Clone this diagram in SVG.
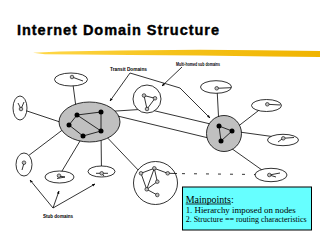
<svg xmlns="http://www.w3.org/2000/svg" width="320" height="240" viewBox="0 0 320 240">
<defs>
<style>
.ln{stroke:#000;stroke-width:0.8;fill:none}
.dom{fill:#fff;stroke:#000;stroke-width:0.8}
.tr{fill:#c0c0c0;stroke:#000;stroke-width:0.8}
.bn{fill:#000}
.sn{fill:#c0c0c0;stroke:#000;stroke-width:0.6}
.lbl{font-family:"Liberation Sans",Arial,sans-serif;font-size:4.5px;font-weight:bold;fill:#000}
.mp{font-family:"Liberation Serif","Times New Roman",serif;fill:#000}
</style>
<marker id="ah" viewBox="0 0 10 10" refX="9" refY="5" markerWidth="4" markerHeight="4" orient="auto">
<path d="M0,1 L10,5 L0,9 Z" fill="#000"/>
</marker>
<linearGradient id="yg" x1="0" y1="0" x2="1" y2="0">
<stop offset="0" stop-color="#ffd84a"/>
<stop offset="0.5" stop-color="#f5c21a"/>
<stop offset="1" stop-color="#f0b400"/>
</linearGradient>
</defs>
<rect width="320" height="240" fill="#fff"/>
<text x="17" y="34.5" font-family="Liberation Sans,Arial,sans-serif" font-weight="bold" font-size="14.5" stroke="#000" stroke-width="0.4" textLength="202" lengthAdjust="spacing">Internet Domain Structure</text>
<polygon points="33,52.8 60,51.5 120,50.5 200,49.8 260,50.2 320,51 320,57 270,56.5 200,55.5 130,55 80,54.6 45,54.2" fill="url(#yg)"/>

<g id="connectors">
<line class="ln" x1="72" y1="77" x2="77" y2="115"/>
<line class="ln" x1="21" y1="109" x2="69" y2="125"/>
<line class="ln" x1="69" y1="125" x2="28" y2="156"/>
<line class="ln" x1="59" y1="176" x2="83" y2="136"/>
<line class="ln" x1="101" y1="131" x2="101.5" y2="173"/>
<line class="ln" x1="101" y1="131" x2="141" y2="173"/>
<line class="ln" x1="101" y1="112" x2="147" y2="109"/>
<line class="ln" x1="147" y1="109" x2="219" y2="126"/>
<line class="ln" x1="101" y1="112" x2="221" y2="141"/>
<line class="ln" x1="217" y1="88" x2="219" y2="126"/>
<line class="ln" x1="232" y1="131" x2="267" y2="104"/>
<line class="ln" x1="232" y1="131" x2="283" y2="138"/>
<line class="ln" x1="221" y1="141" x2="269" y2="175"/>
<line class="ln" x1="170" y1="173.5" x2="257" y2="174.5" stroke-dasharray="3,9"/>
<polyline class="ln" points="130,73 180,88 210,118" marker-end="url(#ah)"/>
<line class="ln" x1="130" y1="73" x2="110" y2="101" marker-end="url(#ah)"/>
<line class="ln" x1="182" y1="67" x2="162" y2="86" marker-end="url(#ah)"/>
<line class="ln" x1="53" y1="208" x2="30" y2="180" marker-end="url(#ah)"/>
<line class="ln" x1="53" y1="208" x2="59" y2="191" marker-end="url(#ah)"/>
<line class="ln" x1="53" y1="208" x2="95" y2="184" marker-end="url(#ah)"/>
</g>

<g id="transit-left">
<ellipse class="tr" cx="89.5" cy="122" rx="30.5" ry="20"/>
<polyline class="ln" points="69,125 77,115 101,112 101,131 83,136 69,125"/>
<line class="ln" x1="77" y1="115" x2="101" y2="131"/>
<circle class="bn" cx="77" cy="115" r="2.5"/>
<circle class="bn" cx="101" cy="112" r="2.5"/>
<circle class="bn" cx="69" cy="125" r="2.5"/>
<circle class="bn" cx="101" cy="131" r="2.5"/>
<circle class="bn" cx="83" cy="136" r="2.5"/>
</g>

<g id="transit-right">
<ellipse class="tr" cx="224" cy="133.5" rx="17.5" ry="18"/>
<polygon class="ln" points="219,126 232,131 221,141"/>
<circle class="bn" cx="219" cy="126" r="2.5"/>
<circle class="bn" cx="232" cy="131" r="2.5"/>
<circle class="bn" cx="221" cy="141" r="2.5"/>
</g>

<g id="stub-top">
<ellipse class="dom" cx="71" cy="79.5" rx="16.5" ry="6.5"/>
<line class="ln" x1="72" y1="77" x2="83" y2="81"/>
<circle class="sn" cx="72" cy="77" r="1.8"/>
</g>

<g id="stub-left">
<ellipse class="dom" cx="20" cy="108" rx="7" ry="12"/>
<polyline class="ln" points="18,103 21,109 24,102"/>
<circle class="sn" cx="21" cy="109" r="1.8"/>
</g>

<g id="stub-lowleft">
<ellipse class="dom" cx="24" cy="164.5" rx="8" ry="11.5"/>
<line class="ln" x1="24" y1="163" x2="22" y2="170"/>
<circle class="sn" cx="24" cy="162.7" r="1.8"/>
</g>

<g id="stub-mid1">
<ellipse class="dom" cx="59.5" cy="177" rx="14.5" ry="6"/>
<polyline class="ln" points="59,176 65,177 57,178.5"/>
<circle class="sn" cx="59" cy="175.7" r="1.8"/>
</g>

<g id="stub-mid2">
<ellipse class="dom" cx="101.5" cy="171.5" rx="13.5" ry="5.5"/>
<polyline class="ln" points="96,173.3 108,173.3"/>
<line class="ln" x1="101.7" y1="173.3" x2="104" y2="176"/>
<circle class="sn" cx="101.7" cy="173.3" r="1.8"/>
</g>

<g id="multi-homed">
<ellipse class="dom" cx="147" cy="99" rx="14" ry="14"/>
<polygon class="ln" points="144,95.5 155,98.3 147,109"/>
<circle class="sn" cx="144" cy="95.5" r="1.8"/>
<circle class="sn" cx="155" cy="98.3" r="1.8"/>
<circle class="sn" cx="147" cy="109" r="1.8"/>
</g>

<g id="stub-big">
<ellipse class="dom" cx="155.5" cy="183" rx="22" ry="21.5"/>
<line class="ln" x1="141" y1="173.3" x2="154.3" y2="168.3"/>
<line class="ln" x1="141" y1="173.3" x2="146.7" y2="189.3"/>
<line class="ln" x1="154.3" y1="168.3" x2="146.7" y2="189.3"/>
<line class="ln" x1="154.3" y1="168.3" x2="157.3" y2="181.7"/>
<line class="ln" x1="157.3" y1="181.7" x2="146.7" y2="189.3"/>
<line class="ln" x1="146.7" y1="189.3" x2="157.3" y2="195"/>
<line class="ln" x1="154.3" y1="168.3" x2="167.7" y2="173.3"/>
<line class="ln" x1="167.7" y1="173.3" x2="177" y2="173.5"/>
<circle class="sn" cx="141" cy="173.3" r="1.8"/>
<circle class="sn" cx="154.3" cy="168.3" r="1.8"/>
<circle class="sn" cx="167.7" cy="173.3" r="1.8"/>
<circle class="sn" cx="157.3" cy="181.7" r="1.8"/>
<circle class="sn" cx="146.7" cy="189.3" r="1.8"/>
<circle class="sn" cx="157.3" cy="195" r="1.8"/>
</g>

<g id="stub-rtop">
<ellipse class="dom" cx="216" cy="87" rx="15.5" ry="6.3"/>
<line class="ln" x1="216.7" y1="88.3" x2="231" y2="87.7"/>
<circle class="sn" cx="216.7" cy="88.3" r="1.8"/>
</g>

<g id="stub-rupper">
<ellipse class="dom" cx="266.5" cy="105.5" rx="15" ry="6"/>
<line class="ln" x1="267.3" y1="104.3" x2="280.7" y2="105"/>
<circle class="sn" cx="267.3" cy="104.3" r="1.8"/>
</g>

<g id="stub-right">
<ellipse class="dom" cx="283" cy="140" rx="15.5" ry="5.7"/>
<polyline class="ln" points="283,138.3 294,137.5"/>
<line class="ln" x1="283" y1="138.3" x2="278" y2="142"/>
<circle class="sn" cx="283.3" cy="138.3" r="1.8"/>
</g>

<g id="stub-rlow">
<ellipse class="dom" cx="271" cy="175" rx="16" ry="6.7"/>
<polyline class="ln" points="269.3,175 280,173"/>
<line class="ln" x1="269.3" y1="175" x2="276" y2="177"/>
<circle class="sn" cx="269.3" cy="175" r="1.8"/>
</g>

<g id="labels">
<text class="lbl" x="110" y="71" textLength="37" lengthAdjust="spacingAndGlyphs">Transit Domains</text>
<text class="lbl" x="176" y="66" textLength="44" lengthAdjust="spacingAndGlyphs">Multi-homed sub domains</text>
<text class="lbl" x="43" y="218" textLength="30" lengthAdjust="spacingAndGlyphs">Stub domains</text>
</g>

<g id="mainpoints">
<rect x="182.5" y="187" width="129" height="43" fill="#66ffff" stroke="#000" stroke-width="1"/>
<text class="mp" x="185.7" y="202.5" font-size="11" textLength="48" lengthAdjust="spacingAndGlyphs">Mainpoints:</text>
<line x1="185.7" y1="204" x2="231" y2="204" stroke="#000" stroke-width="0.8"/>
<text class="mp" x="185.7" y="212.7" font-size="8" textLength="110" lengthAdjust="spacingAndGlyphs">1. Hierarchy imposed on nodes</text>
<text class="mp" x="185.7" y="222" font-size="7.5" textLength="121" lengthAdjust="spacingAndGlyphs">2. Structure == routing characteristics</text>
</g>
</svg>
